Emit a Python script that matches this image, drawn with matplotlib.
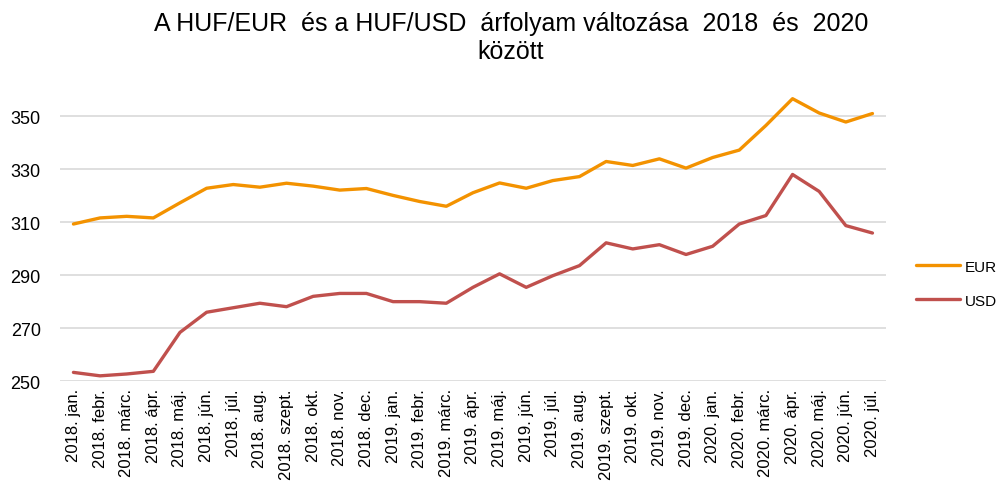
import numpy as np
import matplotlib.pyplot as plt

plt.rcParams['font.family'] = ['Liberation Sans', 'DejaVu Sans']

honapok = ['2018. jan.', '2018. febr.', '2018. márc.', '2018. ápr.', '2018. máj.',
           '2018. jún.', '2018. júl.', '2018. aug.', '2018. szept.', '2018. okt.',
           '2018. nov.', '2018. dec.', '2019. jan.', '2019. febr.', '2019. márc.',
           '2019. ápr.', '2019. máj.', '2019. jún.', '2019. júl.', '2019. aug.',
           '2019. szept.', '2019. okt.', '2019. nov.', '2019. dec.', '2020. jan.',
           '2020. febr.', '2020. márc.', '2020. ápr.', '2020. máj.', '2020. jún.',
           '2020. júl.']

eur = [309.4, 311.7, 312.3, 311.7, 317.4, 322.9, 324.3, 323.3, 324.8, 323.7,
       322.2, 322.8, 320.2, 317.9, 316.1, 321.2, 324.9, 322.9, 325.8, 327.3,
       333.0, 331.5, 334.0, 330.5, 334.5, 337.3, 346.6, 356.7, 351.3, 347.9,
       351.1]

usd = [253.4, 252.1, 252.8, 253.8, 268.5, 276.1, 277.8, 279.5, 278.2, 282.1,
       283.2, 283.2, 280.1, 280.1, 279.5, 285.5, 290.6, 285.5, 289.9, 293.7,
       302.3, 300.0, 301.6, 297.9, 301.0, 309.4, 312.6, 328.1, 321.7, 308.8,
       306.0]

x = np.arange(len(honapok))

fig = plt.figure(figsize=(10.02, 4.89), dpi=100)
ax = fig.add_axes([0.06, 0.218, 0.824, 0.596])

ax.plot(x, eur, color='#F39200', lw=2.4, label='EUR', solid_capstyle='round')
ax.plot(x, usd, color='#C0504D', lw=2.4, label='USD', solid_capstyle='round')

ax.set_xlim(-0.5, len(honapok) - 0.5)
ax.set_ylim(250, 360)
ax.set_yticks(np.arange(250, 351, 20))
ax.set_xticks(x)
ax.set_xticklabels(honapok, rotation=90, fontsize=12)
ax.tick_params(axis='y', labelsize=13, length=0, pad=14)
ax.tick_params(axis='x', length=0, pad=5)
ax.grid(axis='y', color='#D9D9D9', lw=1.2)
ax.set_axisbelow(True)
for s in ax.spines.values():
    s.set_visible(False)

# cim
fig.text(0.51, 0.975, 'A HUF/EUR  és a HUF/USD  árfolyam változása  2018  és  2020\nközött',
         ha='center', va='top', fontsize=18, linespacing=1.2)

fig.legend(loc='center left', bbox_to_anchor=(0.9, 0.418), frameon=False,
           fontsize=11, handlelength=2.9, handletextpad=0.35, labelspacing=1.3)

fig.savefig('out.png', dpi=100)
